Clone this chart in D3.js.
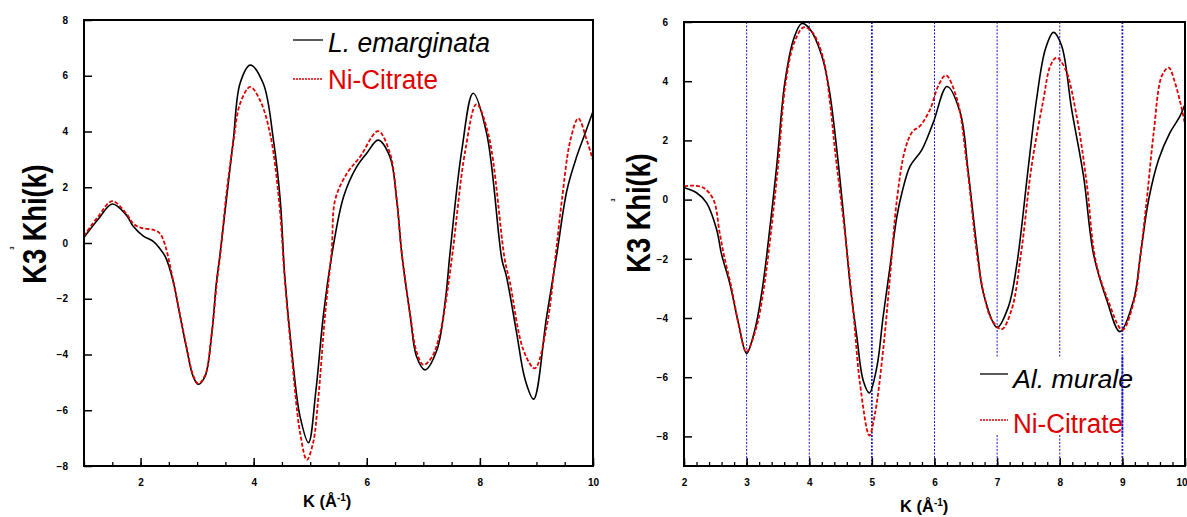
<!DOCTYPE html>
<html><head><meta charset="utf-8">
<script src="https://cdn.jsdelivr.net/npm/d3@7"></script>
<style>
html,body{margin:0;padding:0;background:#fff;}
svg{display:block;font-family:"Liberation Sans",Arial,Helvetica,sans-serif;}
</style></head>
<body>
<svg id="chart" width="1187" height="517"></svg>
<script>
// ---------- Left panel data (L. emarginata vs Ni-Citrate) ----------
const leftEmK = [1.0,1.25,1.5,1.75,1.87,2.05,2.23,2.34,2.44,2.58,2.7,2.82,2.93,3.02,3.14,3.26,3.34,3.4,3.52,3.64,3.76,3.94,4.17,4.35,4.47,4.55,4.68,4.82,4.97,5.1,5.23,5.38,5.59,5.82,6.0,6.2,6.41,6.53,6.62,6.77,6.88,7.03,7.24,7.39,7.47,7.68,7.88,8.12,8.39,8.47,8.65,8.8,8.95,9.18,9.36,9.54,9.71,9.86,10.0];
const leftEmY = [0.2,0.85,1.4,1.0,0.6,0.25,0.05,-0.2,-0.5,-1.4,-2.64,-3.84,-4.79,-5.07,-4.79,-3.24,-1.44,-0.5,1.6,3.69,5.73,6.38,5.72,3.69,1.54,-1.2,-4.0,-6.22,-7.16,-5.3,-2.64,-0.45,1.66,2.73,3.22,3.69,3.09,1.54,-0.4,-2.64,-4.07,-4.55,-3.84,-2.04,-0.4,3.33,5.37,3.93,-0.6,-1.2,-3.23,-4.9,-5.6,-2.64,-0.4,1.9,3.09,3.93,4.72];
const leftNiK = [1.0,1.25,1.5,1.75,1.87,2.0,2.23,2.34,2.43,2.52,2.62,2.71,2.82,2.93,3.02,3.14,3.26,3.35,3.41,3.52,3.64,3.76,3.94,4.11,4.29,4.45,4.55,4.68,4.82,4.94,5.05,5.14,5.26,5.38,5.44,5.65,5.88,6.2,6.41,6.53,6.62,6.77,6.88,7.0,7.15,7.3,7.42,7.52,7.74,7.94,8.15,8.44,8.53,8.77,8.97,9.18,9.35,9.45,9.6,9.74,9.89,10.0];
const leftNiY = [0.25,0.95,1.5,1.05,0.7,0.55,0.47,0.35,-0.05,-0.8,-1.8,-2.7,-3.8,-4.75,-5.05,-4.75,-3.2,-1.4,-0.4,1.8,3.6,5.0,5.6,5.13,3.93,1.5,-1.3,-4.2,-6.8,-7.78,-7.18,-5.63,-2.64,-0.25,1.54,2.5,3.09,4.01,3.22,1.54,-0.4,-2.6,-3.9,-4.37,-4.1,-3.2,-1.8,-0.3,3.3,4.98,3.9,-0.6,-1.4,-3.84,-4.5,-3.0,-0.25,1.54,3.69,4.47,3.69,2.97];

// ---------- Right panel data (Al. murale vs Ni-Citrate) ----------
const rightAlK = [2.0,2.2,2.36,2.52,2.6,2.73,2.87,3.0,3.13,3.24,3.32,3.48,3.61,3.75,3.88,4.01,4.2,4.32,4.44,4.55,4.65,4.76,4.86,4.96,5.08,5.18,5.29,5.4,5.48,5.61,5.8,5.98,6.2,6.41,6.54,6.69,6.78,7.0,7.18,7.31,7.5,7.63,7.77,7.9,8.03,8.19,8.38,8.54,8.75,8.96,9.18,9.29,9.42,9.58,9.76,9.92,10.0];
const rightAlY = [0.4,0.23,-0.11,-1.0,-1.85,-2.82,-4.18,-5.2,-4.41,-3.16,-1.9,1.13,3.95,5.42,5.95,5.76,4.86,3.7,1.69,-0.57,-2.82,-4.63,-6.1,-6.53,-5.65,-3.95,-2.26,-0.57,0.23,1.13,1.69,2.6,3.82,2.94,0.9,-1.85,-3.16,-4.32,-3.62,-2.26,1.13,3.39,5.08,5.65,5.2,3.05,0.79,-1.85,-3.39,-4.46,-3.39,-1.85,0.0,1.36,2.26,2.82,3.22];
const rightNiK = [2.0,2.15,2.31,2.47,2.57,2.64,2.75,2.87,2.97,3.0,3.16,3.27,3.35,3.5,3.62,3.76,3.91,4.05,4.22,4.33,4.41,4.57,4.71,4.81,4.96,5.05,5.18,5.29,5.4,5.53,5.65,5.77,5.93,6.06,6.18,6.36,6.52,6.69,6.8,6.9,7.07,7.23,7.39,7.55,7.74,7.85,7.95,8.09,8.27,8.43,8.57,8.77,9.0,9.2,9.28,9.39,9.5,9.63,9.74,9.84,9.95,10.0];
const rightNiY = [0.45,0.47,0.4,0.0,-1.13,-1.9,-2.9,-4.2,-5.08,-5.15,-4.29,-3.05,-1.8,1.1,3.9,5.3,5.82,5.65,4.8,3.3,1.69,-1.13,-3.95,-6.21,-7.97,-7.23,-5.08,-2.6,0.0,1.69,2.3,2.49,3.05,3.84,4.2,3.39,1.13,-2.03,-3.3,-4.0,-4.38,-3.73,-1.69,1.13,3.39,4.52,4.8,4.41,2.82,0.56,-2.03,-3.4,-4.4,-3.3,-2.03,0.0,2.26,4.18,4.46,3.95,3.05,2.54];

// ---------- Tick values ----------
const leftXTicks = [2,4,6,8,10];
const leftXMinor = d3.range(1,10.01,0.5);
const leftYTicks = [-8,-6,-4,-2,0,2,4,6,8];
const rightXTicks = [2,3,4,5,6,7,8,9,10];
const rightXMinor = d3.range(2,10.001,0.2).map(v=>+v.toFixed(1));
const rightYTicks = [-8,-6,-4,-2,0,2,4,6];
const rightVLines = [3,4,5,6,7,8,9];
const thickVLines = [5,9];

const svg = d3.select("#chart");

function panel(opt){
  const g = svg.append("g");
  const x = d3.scaleLinear().domain(opt.xDomain).range([opt.x0, opt.x1]);
  const y = d3.scaleLinear().domain(opt.yDomain).range([opt.y1, opt.y0]);
  const clipId = "clip"+opt.id;
  svg.append("clipPath").attr("id",clipId).append("rect")
    .attr("x",opt.x0).attr("y",opt.y0).attr("width",opt.x1-opt.x0).attr("height",opt.y1-opt.y0);

  // vertical reference lines
  if(opt.vlines){
    g.selectAll(".vl").data(opt.vlines).enter().append("line")
      .attr("x1",d=>x(d)).attr("x2",d=>x(d)).attr("y1",opt.y0).attr("y2",opt.y1)
      .attr("stroke","#1a1ad6").attr("stroke-width",d=>thickVLines.includes(d)?1.8:1)
      .attr("stroke-dasharray","2,1.5");
  }

  // minor ticks
  const minorX = d3.axisBottom(x).tickValues(opt.xMinor).tickSize(-4).tickFormat("");
  g.append("g").attr("transform",`translate(0,${opt.y1})`).call(minorX)
    .call(s=>s.select(".domain").remove())
    .call(s=>s.selectAll("line").attr("stroke","#000").attr("stroke-width",1.3));
  // major x ticks
  const ax = d3.axisBottom(x).tickValues(opt.xTicks).tickSize(-8).tickPadding(13).tickFormat(d3.format("d"));
  g.append("g").attr("transform",`translate(0,${opt.y1})`).call(ax)
    .call(s=>s.select(".domain").remove())
    .call(s=>s.selectAll("line").attr("stroke","#000").attr("stroke-width",1.5))
    .call(s=>s.selectAll("text").attr("font-size",10).attr("font-weight","bold").attr("fill","#000")
      .attr("font-family","'Liberation Sans',Arial,sans-serif"))
    .call(s=>s.selectAll(".tick").filter(d=>d===10).select("text")
      .attr("text-anchor",opt.lastAnchor||"middle").attr("dx",opt.lastDx||0));
  // y ticks
  const ay = d3.axisLeft(y).tickValues(opt.yTicks).tickSize(-8).tickPadding(16).tickFormat(d3.format("d"));
  g.append("g").attr("transform",`translate(${opt.x0},0)`).call(ay)
    .call(s=>s.select(".domain").remove())
    .call(s=>s.selectAll("line").attr("stroke","#000").attr("stroke-width",1.5))
    .call(s=>s.selectAll("text").attr("font-size",10).attr("font-weight","bold").attr("fill","#000")
      .attr("font-family","'Liberation Sans',Arial,sans-serif"));

  // curves
  const line = d3.line().x(d=>x(d[0])).y(d=>y(d[1])).curve(d3.curveCatmullRom.alpha(0.5));
  const dA = opt.aK.map((k,i)=>[k,opt.aY[i]]);
  const dB = opt.bK.map((k,i)=>[k,opt.bY[i]]);
  const cg = g.append("g").attr("clip-path",`url(#${clipId})`);
  cg.append("path").attr("d",line(dA)).attr("fill","none").attr("stroke","#000").attr("stroke-width",1.6);
  cg.append("path").attr("d",line(dB)).attr("fill","none").attr("stroke","#e00000").attr("stroke-width",1.8)
    .attr("stroke-dasharray","4,2");

  // frame
  g.append("rect").attr("x",opt.x0).attr("y",opt.y0).attr("width",opt.x1-opt.x0).attr("height",opt.y1-opt.y0)
    .attr("fill","none").attr("stroke","#000").attr("stroke-width",2);

  // y label
  const yl = g.append("text").attr("transform",`translate(${opt.ylx},${opt.yly}) rotate(-90) scale(0.8,1)`)
    .attr("text-anchor","middle").attr("font-size",34).attr("font-weight","bold").attr("fill","#000");
  yl.text("K3 Khi(k)");
  g.append("text").attr("transform",`translate(${opt.smx},${opt.smy}) rotate(-90)`)
    .attr("text-anchor","middle").attr("font-size",6).attr("font-weight","bold").text("3");

  // x label
  const xl = g.append("text").attr("x",opt.xlx).attr("y",opt.xly).attr("font-size",16.5).attr("font-weight","bold").attr("fill","#000");
  xl.append("tspan").text("K (Å");
  xl.append("tspan").attr("font-size",10).attr("dy",-6).text("-1");
  xl.append("tspan").attr("dy",6).text(")");

  // legend
  const lg = g.append("g");
  if(opt.legBox){
    lg.append("rect").attr("x",opt.legBox[0]).attr("y",opt.legBox[1]).attr("width",opt.legBox[2]).attr("height",opt.legBox[3]).attr("fill","#fff");
  }
  lg.append("line").attr("x1",opt.leg.lx0).attr("x2",opt.leg.lx1).attr("y1",opt.leg.ly1).attr("y2",opt.leg.ly1)
    .attr("stroke","#000").attr("stroke-width",1.3);
  lg.append("line").attr("x1",opt.leg.lx0).attr("x2",opt.leg.lx1).attr("y1",opt.leg.ly2).attr("y2",opt.leg.ly2)
    .attr("stroke","#e00000").attr("stroke-width",1.3).attr("stroke-dasharray","2,1");
  lg.append("text").attr("x",opt.leg.tx).attr("y",opt.leg.ty1).attr("font-size",opt.leg.fs1).attr("font-style","italic")
    .attr("fill","#000").attr("textLength",opt.leg.tw1).attr("lengthAdjust","spacingAndGlyphs").text(opt.leg.t1);
  lg.append("text").attr("x",opt.leg.tx).attr("y",opt.leg.ty2).attr("font-size",opt.leg.fs2)
    .attr("fill","#e00000").attr("textLength",opt.leg.tw2).attr("lengthAdjust","spacingAndGlyphs").text("Ni-Citrate");
  return x;
}

panel({id:"L", x0:84, x1:593, y0:20, y1:466, xDomain:[1,10], yDomain:[-8,8],
  xTicks:leftXTicks, xMinor:leftXMinor, yTicks:leftYTicks,
  aK:leftEmK, aY:leftEmY, bK:leftNiK, bY:leftNiY,
  ylx:46, yly:224, smx:14, smy:248, xlx:303, xly:507,
  leg:{lx0:293,lx1:323,ly1:40,ly2:79,tx:328,ty1:52,ty2:89,t1:"L. emarginata",fs1:28,fs2:27,tw1:162,tw2:110}});

const xR = panel({id:"R", x0:684, x1:1185, y0:22, y1:466, xDomain:[2,10], yDomain:[-9,6],
  xTicks:rightXTicks, xMinor:rightXMinor, yTicks:rightYTicks, vlines:rightVLines,
  aK:rightAlK, aY:rightAlY, bK:rightNiK, bY:rightNiY,
  ylx:650, yly:213, smx:615, smy:200, xlx:900, xly:512,
  lastAnchor:"end", lastDx:2,
  legBox:[975,357,142,78],
  leg:{lx0:980,lx1:1008,ly1:374,ly2:420,tx:1013,ty1:388,ty2:433,t1:"Al. murale",fs1:26,fs2:27,tw1:120,tw2:110}});

// the k=9 reference line runs across the legend area in the reference
svg.append("line").attr("x1",xR(9)).attr("x2",xR(9)).attr("y1",357).attr("y2",435)
  .attr("stroke","#1a1ad6").attr("stroke-width",1.8).attr("stroke-dasharray","2,1.5");
</script>
</body></html>
